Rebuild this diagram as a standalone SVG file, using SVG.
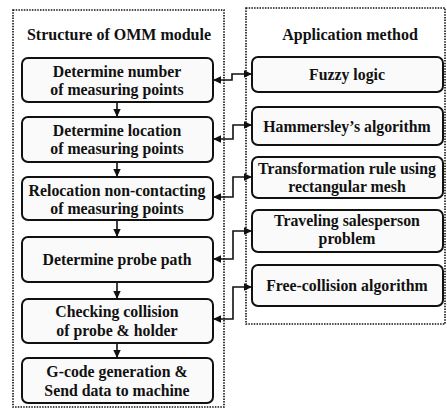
<svg xmlns="http://www.w3.org/2000/svg" width="447" height="412" viewBox="0 0 447 412">
<style>
.cont{fill:none;stroke:#111;stroke-width:1.6;stroke-dasharray:1.5 1.2}
.box{fill:#fafafa;stroke:#111;stroke-width:2}
.t{font-family:'Liberation Serif',serif;font-weight:bold;font-size:15.8px;fill:#111;text-anchor:middle}
.h{font-size:16px}
.c{fill:none;stroke:#111;stroke-width:1.6}
</style>
<defs>
<marker id="ah" markerWidth="9" markerHeight="9" refX="8" refY="4.5" orient="auto-start-reverse" markerUnits="userSpaceOnUse">
<path d="M0,0.8 L8,4.5 L0,8.2 Z" fill="#111"/>
</marker>
</defs>
<rect width="447" height="412" fill="#fff"/>
<g id="left-container">
<rect class="cont" x="13" y="10" width="211" height="397"/>
<text class="t h" x="119" y="40">Structure of OMM module</text>
</g>
<g id="right-container">
<rect class="cont" x="246" y="8" width="199" height="316"/>
<text class="t h" x="350" y="40">Application method</text>
</g>
<g id="n1"><rect class="box" x="22" y="58" width="191" height="44" rx="6"/>
<text class="t" x="117" y="77">Determine number</text><text class="t" x="117" y="95">of measuring points</text></g>
<g id="n2"><rect class="box" x="22" y="117" width="191" height="45" rx="6"/>
<text class="t" x="117" y="136">Determine location</text><text class="t" x="117" y="154">of measuring points</text></g>
<g id="n3"><rect class="box" x="22" y="177" width="191" height="43" rx="6"/>
<text class="t" x="117" y="196">Relocation non-contacting</text><text class="t" x="117" y="214">of measuring points</text></g>
<g id="n4"><rect class="box" x="22" y="237" width="191" height="45" rx="6"/>
<text class="t" x="117" y="265">Determine probe path</text></g>
<g id="n5"><rect class="box" x="22" y="299" width="191" height="44" rx="6"/>
<text class="t" x="117" y="317">Checking collision</text><text class="t" x="117" y="336">of probe &amp; holder</text></g>
<g id="n6"><rect class="box" x="22" y="358" width="191" height="45" rx="6"/>
<text class="t" x="117" y="377">G-code generation &amp;</text><text class="t" x="117" y="396">Send data to machine</text></g>
<g id="r1"><rect class="box" x="252" y="57" width="191" height="35" rx="6"/>
<text class="t" x="347" y="80">Fuzzy logic</text></g>
<g id="r2"><rect class="box" x="252" y="107" width="191" height="38" rx="6"/>
<text class="t" x="347" y="132">Hammersley’s algorithm</text></g>
<g id="r3"><rect class="box" x="252" y="157" width="191" height="41" rx="6"/>
<text class="t" x="347" y="174">Transformation rule using</text><text class="t" x="347" y="192">rectangular mesh</text></g>
<g id="r4"><rect class="box" x="252" y="210" width="191" height="42" rx="6"/>
<text class="t" x="347" y="226">Traveling salesperson</text><text class="t" x="347" y="244">problem</text></g>
<g id="r5"><rect class="box" x="252" y="265" width="191" height="41" rx="6"/>
<text class="t" x="347" y="291">Free-collision algorithm</text></g>
<g id="connectors">
<path class="c" d="M117 102 V117" marker-end="url(#ah)"/>
<path class="c" d="M117 162 V177" marker-end="url(#ah)"/>
<path class="c" d="M117 220 V237" marker-end="url(#ah)"/>
<path class="c" d="M117 282 V299" marker-end="url(#ah)"/>
<path class="c" d="M117 343 V358" marker-end="url(#ah)"/>
<path class="c" d="M213 80 H232 V74 H252" marker-start="url(#ah)" marker-end="url(#ah)"/>
<path class="c" d="M213 139 H233 V125 H252" marker-start="url(#ah)" marker-end="url(#ah)"/>
<path class="c" d="M213 197 H233 V177 H252" marker-start="url(#ah)" marker-end="url(#ah)"/>
<path class="c" d="M213 259 H233 V231 H252" marker-start="url(#ah)" marker-end="url(#ah)"/>
<path class="c" d="M213 319 H233 V287 H252" marker-start="url(#ah)" marker-end="url(#ah)"/>
</g>
</svg>
